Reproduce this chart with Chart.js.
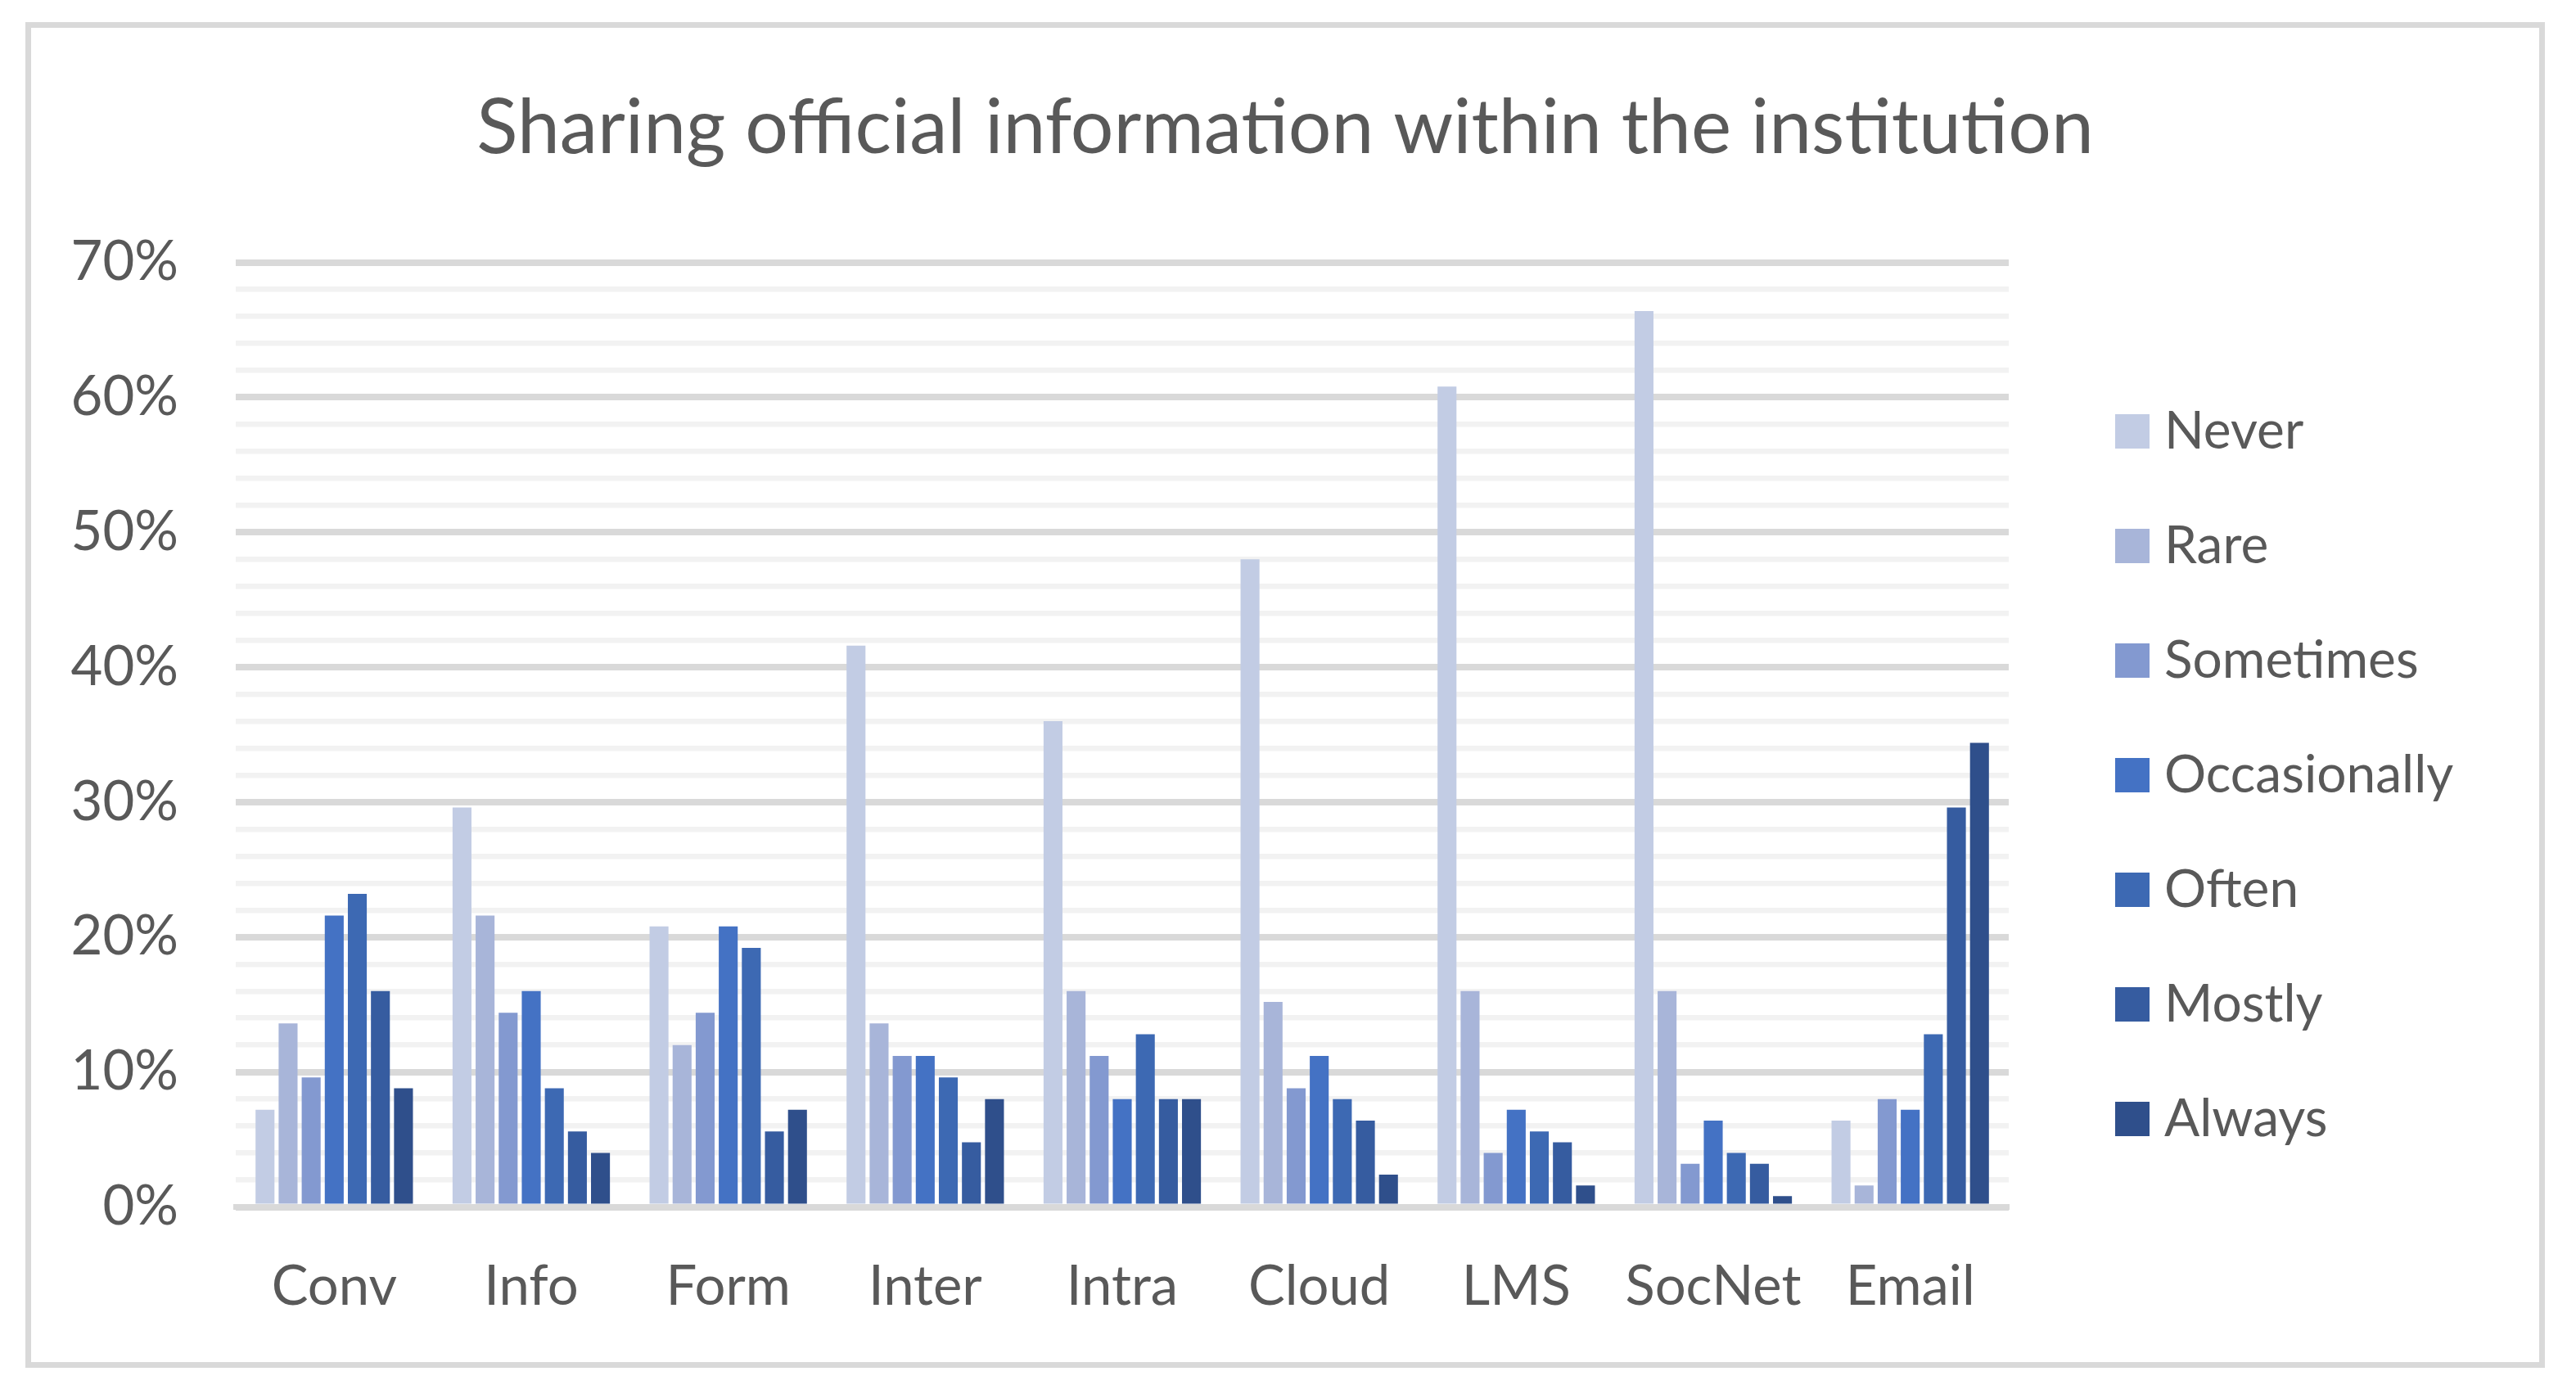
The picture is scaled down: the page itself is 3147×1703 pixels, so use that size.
<!DOCTYPE html>
<html>
<head>
<meta charset="utf-8">
<script src="https://cdn.jsdelivr.net/npm/chart.js@4.4.1/dist/chart.umd.min.js"></script>
<style>
  html, body { margin: 0; padding: 0; background: #ffffff; }
  #frame {
    position: absolute; left: 31px; top: 27px;
    width: 3064px; height: 1630px;
    border: 7px solid #d9d9d9; background: #ffffff;
  }
  #c { display: block; }
</style>
</head>
<body>
<div id="frame"><canvas id="c" width="3064" height="1630"></canvas></div>
<script>
// ---- data (percent of respondents) ----
const categories = ['Conv', 'Info', 'Form', 'Inter', 'Intra', 'Cloud', 'LMS', 'SocNet', 'Email'];
const seriesNames = ['Never', 'Rare', 'Sometimes', 'Occasionally', 'Often', 'Mostly', 'Always'];
const never        = [7.2, 29.6, 20.8, 41.6, 36.0, 48.0, 60.8, 66.4, 6.4];
const rare         = [13.6, 21.6, 12.0, 13.6, 16.0, 15.2, 16.0, 16.0, 1.6];
const sometimes    = [9.6, 14.4, 14.4, 11.2, 11.2, 8.8, 4.0, 3.2, 8.0];
const occasionally = [21.6, 16.0, 20.8, 11.2, 8.0, 11.2, 7.2, 6.4, 7.2];
const often        = [23.2, 8.8, 19.2, 9.6, 12.8, 8.0, 5.6, 4.0, 12.8];
const mostly       = [16.0, 5.6, 5.6, 4.8, 8.0, 6.4, 4.8, 3.2, 29.6];
const always       = [8.8, 4.0, 7.2, 8.0, 8.0, 2.4, 1.6, 0.8, 34.4];
const yTickLabels  = ['0%', '10%', '20%', '30%', '40%', '50%', '60%', '70%'];
const titleText = 'Sharing official information within the institution';

// ---- styles ----
const seriesValues = [never, rare, sometimes, occasionally, often, mostly, always];
const seriesColors = ['#c2cce4', '#a8b5d9', '#8399d0', '#4472c4', '#3d69b3', '#365ca0', '#2f4f8b'];
const textColor = '#595959';

const legendPlacement = {
  id: 'legendPlacement',
  beforeLayout(chart, args, opts) {
    const lg = chart.legend;
    if (lg && !lg._patchedFit) {
      const origFit = lg.fit;
      lg.fit = function () { origFit.call(this); if (opts.width) this.width = opts.width; };
      lg._patchedFit = true;
    }
  },
  afterLayout(chart, args, opts) {
    const lg = chart.legend;
    if (!lg) return;
    lg.left += opts.dx; lg.right += opts.dx;
    lg.top += opts.dy; lg.bottom += opts.dy;
  }
};

function build() {
  Chart.defaults.font.family = 'Lato, "Open Sans", sans-serif';
  Chart.defaults.color = textColor;
  new Chart(document.getElementById('c'), {
    type: 'bar',
    data: {
      labels: categories,
      datasets: seriesNames.map((name, i) => ({
        label: name,
        data: seriesValues[i],
        backgroundColor: seriesColors[i],
        borderWidth: 0,
        categoryPercentage: 0.82,
        barPercentage: 0.82
      }))
    },
    plugins: [legendPlacement],
    options: {
      responsive: false,
      animation: false,
      devicePixelRatio: 1,
      layout: { padding: 0 },
      plugins: {
        tooltip: { enabled: false },
        title: {
          display: true,
          text: titleText,
          color: textColor,
          font: { size: 93, weight: 'normal' },
          padding: { top: 67, bottom: 108 }
        },
        legend: {
          position: 'right',
          align: 'center',
          labels: {
            color: textColor,
            font: { size: 64 },
            boxWidth: 14,
            boxHeight: 14,
            padding: 76,
            generateLabels: (chart) =>
              Chart.defaults.plugins.legend.labels.generateLabels(chart).map((item) => {
                item.strokeStyle = item.fillStyle;
                item.lineWidth = 28;
                item.lineJoin = 'miter';
                return item;
              })
          }
        },
        legendPlacement: { width: 648, dx: 68, dy: 98 }
      },
      scales: {
        x: {
          z: 1,
          grid: { display: false, drawTicks: false },
          border: { display: true, color: '#d9d9d9', width: 7 },
          ticks: { color: textColor, font: { size: 67 }, padding: 58, maxRotation: 0, autoSkip: false },
          afterFit(scale) { scale.height = 189.5; }
        },
        y: {
          min: 0,
          max: 70,
          grid: {
            drawTicks: false,
            color: (ctx) => (Math.round(ctx.tick.value) % 10 === 0 ? '#d9d9d9' : '#f2f2f2'),
            lineWidth: (ctx) => (Math.round(ctx.tick.value) % 10 === 0 ? 8 : 6.5)
          },
          border: { display: false },
          ticks: {
            stepSize: 2,
            autoSkip: false,
            color: textColor,
            font: { size: 67 },
            padding: 70,
            callback: (v) => {
              const r = Math.round(v);
              return r % 10 === 0 ? yTickLabels[r / 10] : '';
            }
          },
          afterFit(scale) { scale.width = 250; }
        }
      }
    }
  });
}

if (document.fonts && document.fonts.load) {
  Promise.all([document.fonts.load('67px Lato'), document.fonts.load('93px Lato')])
    .then(build, build);
} else {
  build();
}
</script>
</body>
</html>
